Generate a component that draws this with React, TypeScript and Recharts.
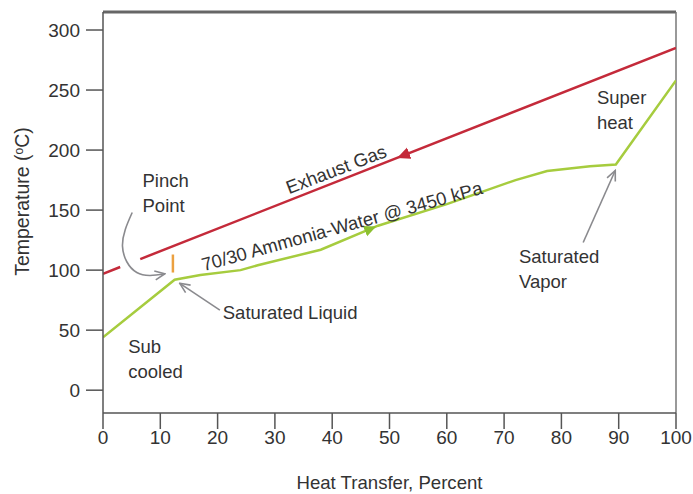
import React from 'react';
import { LineChart, Line, XAxis, YAxis, ReferenceLine, ReferenceDot } from 'recharts';

const FONT = "'Liberation Sans', Arial, sans-serif";
const TEXT = '#333';

const xTicks = [0, 10, 20, 30, 40, 50, 60, 70, 80, 90, 100];
const yTicks = [0, 50, 100, 150, 200, 250, 300];

// hot side (gap where the pinch arrow crosses)
const exhaustGas = [
  { x: 0, y: 97 },
  { x: 3, y: 102.6 },
  { x: 5, y: null },
  { x: 6.5, y: 109.2 },
  { x: 100, y: 285 },
];

// cold side
const ammoniaWater = [
  { x: 0, y: 44 },
  { x: 12.5, y: 92 },
  { x: 17, y: 96 },
  { x: 24, y: 100 },
  { x: 27, y: 104 },
  { x: 38, y: 117 },
  { x: 48, y: 137 },
  { x: 60, y: 155 },
  { x: 66, y: 165 },
  { x: 72, y: 175 },
  { x: 77.5, y: 182.5 },
  { x: 85, y: 186.5 },
  { x: 89.5, y: 188 },
  { x: 100, y: 258 },
];

const pinchMark = [{ x: 12.2, y: 98 }, { x: 12.2, y: 113 }];
const pinchArrow = [{ x: 5.1, y: 148 }, { x: 3.4, y: 120 }, { x: 5.9, y: 98 }, { x: 10.8, y: 97 }];
const liquidArrow = [{ x: 20.4, y: 66.7 }, { x: 13.4, y: 89 }];
const vaporArrow = [{ x: 83.8, y: 123 }, { x: 89.4, y: 183 }];
const exhaustFlow = [{ x: 53, y: 196.6 }, { x: 51.5, y: 193.8 }];
const ammoniaFlow = [{ x: 45.5, y: 132 }, { x: 47.5, y: 136 }];

const blockLabels = [
  { lines: ['Pinch', 'Point'], x: 6.9, y: 175 },
  { lines: ['Sub', 'cooled'], x: 4.4, y: 36 },
  { lines: ['Saturated Liquid'], x: 20.9, y: 64.3 },
  { lines: ['Super', 'heat'], x: 86.2, y: 244 },
  { lines: ['Saturated', 'Vapor'], x: 72.6, y: 111 },
];

const slopedLabels = [
  { text: 'Exhaust Gas', x: 40.7, y: 184, angle: -21 },
  { text: '70/30 Ammonia-Water @ 3450 kPa', x: 41.7, y: 136.6, angle: -15.5 },
];

const blockLabel = (lines: string[]) => (props: any) => {
  const { x, y } = props.viewBox;
  return (
    <text x={x} y={y} fill={TEXT} fontSize={18.5} fontFamily={FONT}>
      {lines.map((l, i) => (
        <tspan key={i} x={x} dy={i === 0 ? '0.35em' : 25}>{l}</tspan>
      ))}
    </text>
  );
};

const slopedLabel = (text: string, angle: number) => (props: any) => {
  const { x, y } = props.viewBox;
  return (
    <text x={x} y={y} dy="0.35em" textAnchor="middle" fill={TEXT} fontSize={18.5} fontFamily={FONT}
      transform={`rotate(${angle}, ${x}, ${y})`}>
      {text}
    </text>
  );
};

const yLabel = (props: any) => {
  const { x, y, height } = props.viewBox;
  const cx = x + 22;
  const cy = y + height / 2 - 11;
  return (
    <text x={cx} y={cy} dy="0.35em" textAnchor="middle" fill={TEXT} fontSize={19.5} fontFamily={FONT}
      transform={`rotate(-90, ${cx}, ${cy})`}>
      Temperature (<tspan dy="-6" fontSize={12}>o</tspan><tspan dy="6">C)</tspan>
    </text>
  );
};

const xLabel = (props: any) => {
  const { x, y, width, height } = props.viewBox;
  return (
    <text x={x + width / 2} y={y + height - 5} textAnchor="middle" fill={TEXT} fontSize={18.6} fontFamily={FONT}>
      Heat Transfer, Percent
    </text>
  );
};

export default function App() {
  return (
    <div style={{ position: 'absolute', left: 0, top: 0, width: 693, height: 494, background: '#fff' }}>
      <svg width={0} height={0} style={{ position: 'absolute' }}>
        <defs>
          <marker id="grayHead" viewBox="0 0 12 12" refX="11" refY="6" markerWidth="12" markerHeight="12"
            markerUnits="userSpaceOnUse" orient="auto">
            <path d="M1,1.5 L11,6 L1,10.5" fill="none" stroke="#8a8a8e" strokeWidth="1.6" />
          </marker>
          <marker id="redHead" viewBox="0 0 12 12" refX="11" refY="6" markerWidth="13" markerHeight="13"
            markerUnits="userSpaceOnUse" orient="auto">
            <path d="M0,0.5 L12,6 L0,11.5 Z" fill="#c42a3a" />
          </marker>
          <marker id="greenHead" viewBox="0 0 12 12" refX="11" refY="6" markerWidth="12" markerHeight="12"
            markerUnits="userSpaceOnUse" orient="auto">
            <path d="M0,0.5 L12,6 L0,11.5 Z" fill="#8cc030" />
          </marker>
        </defs>
      </svg>
      <LineChart width={693} height={494} margin={{ top: 12, right: 17, bottom: 0, left: 0 }}>
        <XAxis dataKey="x" type="number" domain={[0, 100]} ticks={xTicks} height={81}
          tickSize={16} tickMargin={2} allowDataOverflow
          axisLine={{ stroke: '#555', strokeWidth: 1.5 }} tickLine={{ stroke: '#555', strokeWidth: 1.5 }}
          tick={{ fill: TEXT, fontSize: 19, fontFamily: FONT }}
          label={{ content: xLabel }} />
        <YAxis type="number" domain={[-19, 315]} ticks={yTicks} width={103}
          tickSize={17} tickMargin={6} allowDataOverflow
          axisLine={{ stroke: '#555', strokeWidth: 1.5 }} tickLine={{ stroke: '#555', strokeWidth: 1.5 }}
          tick={{ fill: TEXT, fontSize: 19, fontFamily: FONT }}
          label={{ content: yLabel }} />
        <ReferenceLine y={315} stroke="#666" strokeWidth={3} />
        <ReferenceLine x={100} stroke="#777" strokeWidth={1.5} />

        <Line data={exhaustGas} dataKey="y" stroke="#c42a3a" strokeWidth={2.5} dot={false} activeDot={false}
          isAnimationActive={false} type="linear" />
        <Line data={ammoniaWater} dataKey="y" stroke="#a6cc3e" strokeWidth={2.5} dot={false} activeDot={false}
          isAnimationActive={false} type="linear" />
        <Line data={pinchMark} dataKey="y" stroke="#eba040" strokeWidth={2.5} dot={false} activeDot={false}
          isAnimationActive={false} type="linear" />
        <Line data={pinchArrow} dataKey="y" stroke="#8a8a8e" strokeWidth={1.6} dot={false} activeDot={false}
          isAnimationActive={false} type="natural" markerEnd="url(#grayHead)" />
        <Line data={liquidArrow} dataKey="y" stroke="#8a8a8e" strokeWidth={1.6} dot={false} activeDot={false}
          isAnimationActive={false} type="linear" markerEnd="url(#grayHead)" />
        <Line data={vaporArrow} dataKey="y" stroke="#8a8a8e" strokeWidth={1.6} dot={false} activeDot={false}
          isAnimationActive={false} type="linear" markerEnd="url(#grayHead)" />
        <Line data={exhaustFlow} dataKey="y" stroke="none" dot={false} activeDot={false}
          isAnimationActive={false} type="linear" markerEnd="url(#redHead)" />
        <Line data={ammoniaFlow} dataKey="y" stroke="none" dot={false} activeDot={false}
          isAnimationActive={false} type="linear" markerEnd="url(#greenHead)" />

        {blockLabels.map((b, i) => (
          <ReferenceDot key={`b${i}`} x={b.x} y={b.y} r={0} fill="none" stroke="none"
            label={{ content: blockLabel(b.lines) }} />
        ))}
        {slopedLabels.map((s, i) => (
          <ReferenceDot key={`s${i}`} x={s.x} y={s.y} r={0} fill="none" stroke="none"
            label={{ content: slopedLabel(s.text, s.angle) }} />
        ))}
      </LineChart>
    </div>
  );
}
